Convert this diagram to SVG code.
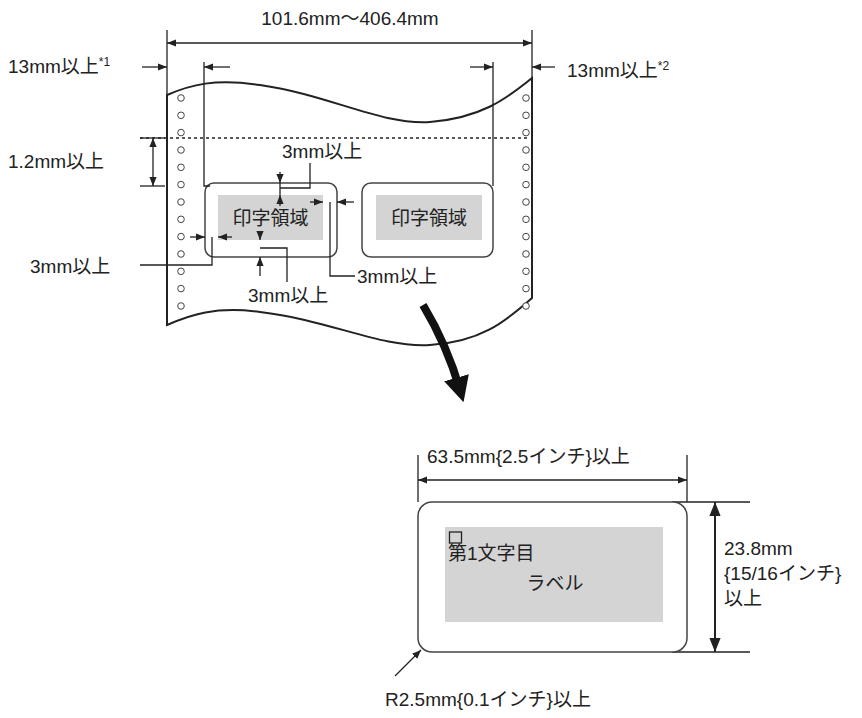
<svg xmlns="http://www.w3.org/2000/svg" width="862" height="718" viewBox="0 0 862 718">
<defs>
<style>
text{font-family:"Liberation Sans","Noto Sans CJK JP",sans-serif;font-size:19px;fill:#222}
.l{stroke:#222;stroke-width:1.3;fill:none}
.t{stroke:#222;stroke-width:2;fill:none}
.h{fill:#fff;stroke:#444;stroke-width:1}
.g{fill:#d4d4d4}
.b{fill:#fff;stroke:#444;stroke-width:1.5}
</style>
<marker id="a" viewBox="0 0 10 10" refX="10" refY="5" markerWidth="7" markerHeight="7" orient="auto-start-reverse"><path d="M0,1L10,5L0,9z" fill="#222"/></marker>
<marker id="big" viewBox="0 0 10 10" refX="5" refY="5" markerWidth="3.2" markerHeight="3.2" orient="auto"><path d="M0,0L10,5L0,10z" fill="#111"/></marker>
</defs>
<g id="paper">
<path class="t" d="M167,95 C190,85 215,78 260,85 C330,95 380,125 430,122 C480,118 505,100 532,78 L532,298 C505,322 480,342 430,345 C380,348 330,320 260,312 C215,306 190,315 167,325 Z" fill="#fff"/>
<g id="holes-left">
<circle class="h" cx="181" cy="98" r="3.3"/><circle class="h" cx="181" cy="115.3" r="3.3"/><circle class="h" cx="181" cy="132.6" r="3.3"/><circle class="h" cx="181" cy="150" r="3.3"/><circle class="h" cx="181" cy="167.3" r="3.3"/><circle class="h" cx="181" cy="184.6" r="3.3"/><circle class="h" cx="181" cy="202" r="3.3"/><circle class="h" cx="181" cy="219.3" r="3.3"/><circle class="h" cx="181" cy="236.6" r="3.3"/><circle class="h" cx="181" cy="254" r="3.3"/><circle class="h" cx="181" cy="271.3" r="3.3"/><circle class="h" cx="181" cy="288.6" r="3.3"/><circle class="h" cx="181" cy="306" r="3.3"/>
</g>
<g id="holes-right">
<circle class="h" cx="526" cy="98" r="3.3"/><circle class="h" cx="526" cy="115.3" r="3.3"/><circle class="h" cx="526" cy="132.6" r="3.3"/><circle class="h" cx="526" cy="150" r="3.3"/><circle class="h" cx="526" cy="167.3" r="3.3"/><circle class="h" cx="526" cy="184.6" r="3.3"/><circle class="h" cx="526" cy="202" r="3.3"/><circle class="h" cx="526" cy="219.3" r="3.3"/><circle class="h" cx="526" cy="236.6" r="3.3"/><circle class="h" cx="526" cy="254" r="3.3"/><circle class="h" cx="526" cy="271.3" r="3.3"/><circle class="h" cx="526" cy="288.6" r="3.3"/><circle class="h" cx="526" cy="306" r="3.3"/>
</g>
<line x1="140" y1="138" x2="530" y2="138" stroke="#222" stroke-width="1.3" stroke-dasharray="3,3"/>
</g>
<g id="label1">
<rect class="b" x="205" y="183" width="132" height="74" rx="9"/>
<rect class="g" x="218" y="195" width="105" height="45"/>
<text x="270.5" y="225" text-anchor="middle">印字領域</text>
</g>
<g id="label2">
<rect class="b" x="362" y="183" width="131" height="74" rx="9"/>
<rect class="g" x="376" y="195" width="106" height="45"/>
<text x="429" y="225" text-anchor="middle">印字領域</text>
</g>
<g id="connectors">
<line class="l" x1="167" y1="30" x2="167" y2="95"/>
<line class="l" x1="532" y1="30" x2="532" y2="78"/>
<line class="l" x1="167" y1="43" x2="532" y2="43" marker-start="url(#a)" marker-end="url(#a)"/>
<line class="l" x1="142" y1="67" x2="167" y2="67" marker-end="url(#a)"/>
<line class="l" x1="230" y1="67" x2="204" y2="67" marker-end="url(#a)"/>
<polyline class="l" points="204,62 204,186 210,186"/>
<line class="l" x1="470" y1="67" x2="493" y2="67" marker-end="url(#a)"/>
<line class="l" x1="555" y1="67" x2="532" y2="67" marker-end="url(#a)"/>
<line class="l" x1="493" y1="62" x2="493" y2="186"/>
<line class="l" x1="140" y1="138" x2="165" y2="138"/>
<line class="l" x1="140" y1="186" x2="165" y2="186"/>
<line class="l" x1="153" y1="138" x2="153" y2="186" marker-start="url(#a)" marker-end="url(#a)"/>
<line class="l" x1="280" y1="172" x2="280" y2="183" marker-end="url(#a)"/>
<line class="l" x1="280" y1="206" x2="280" y2="195" marker-end="url(#a)"/>
<line class="l" x1="280" y1="183" x2="280" y2="195"/>
<polyline class="l" points="280,188 310,188 310,163"/>
<line class="l" x1="190" y1="237" x2="205" y2="237" marker-end="url(#a)"/>
<line class="l" x1="232" y1="237" x2="218" y2="237" marker-end="url(#a)"/>
<polyline class="l" points="212,237 212,265 140,265"/>
<line class="l" x1="260" y1="231" x2="260" y2="240" marker-end="url(#a)"/>
<line class="l" x1="260" y1="276" x2="260" y2="257" marker-end="url(#a)"/>
<polyline class="l" points="260,248 287,248 287,282"/>
<line class="l" x1="310" y1="202" x2="323" y2="202" marker-end="url(#a)"/>
<line class="l" x1="354" y1="202" x2="337" y2="202" marker-end="url(#a)"/>
<polyline class="l" points="330,202 330,276 355,276"/>
<path d="M423,305 Q447,345 460,390" stroke="#111" stroke-width="8" fill="none" marker-end="url(#big)"/>
<line class="l" x1="418" y1="455" x2="418" y2="502"/>
<line class="l" x1="687" y1="455" x2="687" y2="502"/>
<line class="l" x1="418" y1="480" x2="687" y2="480" marker-start="url(#a)" marker-end="url(#a)"/>
<line class="l" x1="672" y1="502" x2="750" y2="502"/>
<line class="l" x1="672" y1="652" x2="750" y2="652"/>
<line class="t" x1="715" y1="502" x2="715" y2="652" marker-start="url(#a)" marker-end="url(#a)"/>
<line class="l" x1="395" y1="676" x2="421" y2="650" marker-end="url(#a)"/>
</g>
<g id="label-detail">
<rect class="b" x="418" y="502" width="269" height="150" rx="14"/>
<rect class="g" x="445" y="527" width="218" height="95"/>
<rect x="449.5" y="532" width="12" height="11" fill="none" stroke="#222" stroke-width="1.3"/>
<text x="448" y="560" font-size="16">第1文字目</text>
<text x="555" y="590" text-anchor="middle">ラベル</text>
</g>
<g id="texts">
<text x="350" y="25" text-anchor="middle">101.6mm～406.4mm</text>
<text x="8" y="73">13mm以上<tspan font-size="12" dy="-7">*1</tspan></text>
<text x="567" y="77">13mm以上<tspan font-size="12" dy="-7">*2</tspan></text>
<text x="8" y="168">1.2mm以上</text>
<text x="282" y="158">3mm以上</text>
<text x="30" y="273">3mm以上</text>
<text x="248" y="302">3mm以上</text>
<text x="357" y="283">3mm以上</text>
<text x="427" y="463">63.5mm{2.5インチ}以上</text>
<text x="724" y="555">23.8mm</text>
<text x="724" y="580">{15/16インチ}</text>
<text x="724" y="605">以上</text>
<text x="385" y="706">R2.5mm{0.1インチ}以上</text>
</g>
</svg>
